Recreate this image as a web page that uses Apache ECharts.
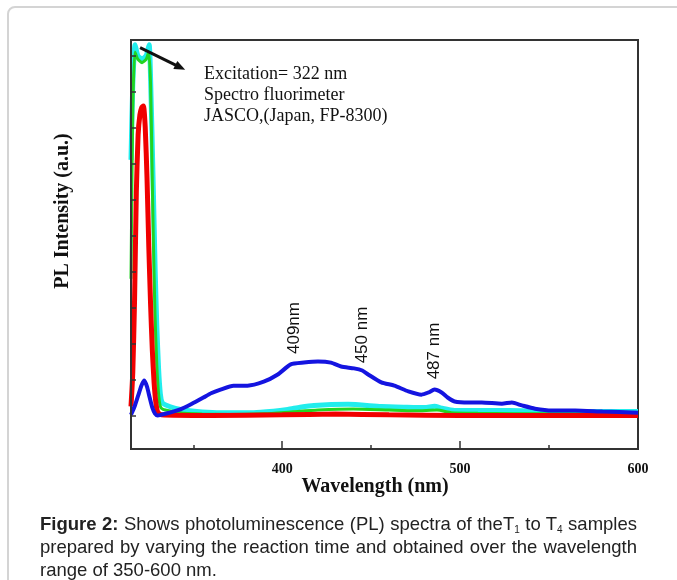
<!DOCTYPE html>
<html>
<head>
<meta charset="utf-8">
<script src="https://cdn.jsdelivr.net/npm/echarts@6/dist/echarts.min.js"></script>
<style>
    html, body { margin: 0; padding: 0; background: #fff; overflow: hidden; }
    #frame { position: absolute; left: 7px; top: 6px; width: 700px; height: 600px;
             border: 2px solid #d4d4d4; border-radius: 8px; }
    #plcharts { position: absolute; left: 0; top: 0; width: 677px; height: 580px; }
    #caption { position: absolute; left: 40px; top: 512px; width: 597px; color: #222;
               font-family: "Liberation Sans", Arial, sans-serif; font-size: 18.5px; line-height: 23px; }
    #caption div { text-align: justify; text-align-last: justify; white-space: nowrap; height: 23px; }
    #caption div.last { text-align-last: left; }
    #caption sub { font-size: 10px; line-height: 0; vertical-align: -3px; }
</style>
</head>
<body>
<div id="frame"></div>
<div id="plcharts"></div>
<div id="caption">
    <div><b>Figure 2:</b> Shows photoluminescence (PL) spectra of theT<sub>1</sub> to T<sub>4</sub> samples</div>
    <div>prepared by varying the reaction time and obtained over the wavelength</div>
    <div class="last">range of 350-600 nm.</div>
</div>
<script>
// wavelength (nm) / intensity (a.u.)
var wlCyan = [315, 316, 317.3, 318.8, 321.2, 323.6, 325.2, 326.3, 327.2, 328, 328.6, 329.5, 330.5, 331.5, 332.5, 334.2, 340, 346.6, 355, 365.3, 383.9, 395, 403.1, 410, 417.8, 437, 455.7, 470, 480, 485.6, 490, 496.9, 510, 527.4, 545, 564.7, 585, 600];
var intCyan = [7.1, 9.2, 10.3, 10.0, 9.9, 10.0, 10.3, 8.8, 7.0, 5.3, 4.0, 2.5, 1.3, 0.6, 0.36, 0.3, 0.2, 0.14, 0.1, 0.08, 0.08, 0.12, 0.17, 0.23, 0.28, 0.31, 0.25, 0.23, 0.22, 0.26, 0.2, 0.14, 0.14, 0.14, 0.12, 0.11, 0.11, 0.11];

var wlGreen = [315, 316, 317.2, 318.8, 321.2, 323.6, 325.0, 326.0, 326.8, 327.6, 328.5, 329.5, 330.5, 331.5, 333, 338, 345, 355, 370, 390, 405, 420, 440, 460, 475, 487, 495, 510, 530, 560, 600];
var intGreen = [3.8, 8.5, 10.1, 9.9, 9.8, 9.9, 10.1, 9.2, 7.0, 4.8, 2.8, 1.4, 0.6, 0.25, 0.17, 0.12, 0.06, 0.04, 0.03, 0.05, 0.1, 0.15, 0.18, 0.15, 0.13, 0.15, 0.08, 0.06, 0.05, 0.05, 0.05];

var wlRed = [315, 316, 317, 318, 319, 320, 321, 322, 323, 324, 325, 326, 327, 328, 329, 330, 332, 360, 400, 430, 460, 500, 600];
var intRed = [0.25, 1.2, 3.2, 6.2, 7.8, 8.35, 8.55, 8.6, 8.0, 6.6, 4.7, 3.1, 1.8, 0.9, 0.35, 0.1, 0.02, 0.0, 0.02, 0.04, 0.02, 0.0, 0.0];

var wlBlue = [315, 317, 319, 321, 322.5, 324, 325.5, 327, 328.5, 330, 332, 336, 342.7, 349, 355.7, 360, 365.3, 372.6, 380.5, 389.6, 397.5, 404.8, 412.2, 420.1, 427.4, 433.1, 440.4, 445, 448.3, 455.7, 463, 470.9, 478.3, 482.2, 485.6, 489.6, 493, 496.9, 504.8, 512.2, 523.5, 529.1, 534.8, 542.1, 551.7, 564.7, 580, 600];
var intBlue = [0.02, 0.25, 0.55, 0.85, 0.97, 0.8, 0.5, 0.22, 0.05, 0.0, 0.02, 0.07, 0.17, 0.32, 0.5, 0.62, 0.72, 0.83, 0.83, 0.94, 1.14, 1.42, 1.47, 1.5, 1.47, 1.36, 1.31, 1.25, 1.14, 0.92, 0.83, 0.67, 0.58, 0.64, 0.72, 0.64, 0.5, 0.39, 0.36, 0.36, 0.33, 0.36, 0.28, 0.19, 0.14, 0.14, 0.11, 0.08];

var majorTicks = [400, 500, 600];
var minorTicks = [350, 450, 550];
var yTicks = [0, 1, 2, 3, 4, 5, 6, 7, 8, 9, 10];
var peakNotes = ['409nm', '450 nm', '487 nm'];
var arrowFrom = [320.1, 10.22];
var arrowTo = [342.7, 9.67];

var pairs = function (xs, ys) {
    var out = [];
    for (var i = 0; i < xs.length; i++) { out.push([xs[i], ys[i]]); }
    return out;
};

var serif = '"Liberation Serif", "Times New Roman", serif';
var sans = '"Liberation Sans", Arial, sans-serif';
var axisColor = '#333';

var chart = echarts.init(document.getElementById('plcharts'), null, { renderer: 'canvas' });

var lineSeries = function (name, color, width, xs, ys) {
    return {
        name: name, type: 'line', xAxisIndex: 0, data: pairs(xs, ys),
        symbol: 'none', smooth: 0.2,
        lineStyle: { color: color, width: width },
        itemStyle: { color: color }
    };
};

var cyan = lineSeries('T4', '#22eded', 5, wlCyan, intCyan);
cyan.markLine = {
    silent: true, symbol: ['none', 'triangle'], symbolSize: [9, 11],
    label: { show: false },
    lineStyle: { color: '#111', width: 3, type: 'solid' },
    data: [[{ coord: arrowFrom }, { coord: arrowTo }]]
};

var peakText = function (txt, x, y) {
    return { type: 'text', x: x, y: y, rotation: Math.PI / 2, z: 100,
             style: { text: txt, font: '17px ' + sans, fill: '#111', align: 'center', verticalAlign: 'middle' } };
};

var option = {
    animation: false,
    grid: { left: 131, right: 39, top: 40, bottom: 131, show: true, borderColor: axisColor, borderWidth: 2, backgroundColor: 'transparent' },
    xAxis: [
        {
            type: 'value', min: 315, max: 600, position: 'bottom', z: 5,
            axisLine: { onZero: false, lineStyle: { color: axisColor, width: 2 } },
            axisTick: { inside: true, length: 8, customValues: majorTicks, lineStyle: { color: axisColor, width: 1.5 } },
            axisLabel: { customValues: majorTicks, color: '#111', fontFamily: serif, fontWeight: 'bold', fontSize: 14, margin: 13 },
            splitLine: { show: false }
        },
        {
            type: 'value', min: 315, max: 600, position: 'bottom', z: 5,
            axisLine: { show: false, onZero: false },
            axisTick: { inside: true, length: 4, customValues: minorTicks, lineStyle: { color: axisColor, width: 1.5 } },
            axisLabel: { show: false },
            splitLine: { show: false }
        }
    ],
    yAxis: {
        type: 'value', min: -0.93, max: 10.43, z: 5,
        axisLine: { show: true, onZero: false, lineStyle: { color: axisColor, width: 2 } },
        axisTick: { show: true, inside: true, length: 5, customValues: yTicks, lineStyle: { color: axisColor, width: 1.5 } },
        axisLabel: { show: false },
        splitLine: { show: false }
    },
    series: [
        cyan,
        lineSeries('T3', '#22d422', 3, wlGreen, intGreen),
        lineSeries('T2', '#f00000', 5, wlRed, intRed),
        lineSeries('T1', '#1414e0', 4, wlBlue, intBlue)
    ],
    graphic: [
        {
            type: 'text', left: 204, top: 64, z: 100,
            style: { text: 'Excitation= 322 nm\nSpectro fluorimeter\nJASCO,(Japan, FP-8300)', font: '18px ' + serif, lineHeight: 21, fill: '#111' }
        },
        peakText(peakNotes[0], 294, 328),
        peakText(peakNotes[1], 362, 335),
        peakText(peakNotes[2], 434, 351),
        { type: 'text', x: 375, y: 487, z: 100,
          style: { text: 'Wavelength (nm)', font: 'bold 20px ' + serif, fill: '#111', align: 'center', verticalAlign: 'middle' } },
        { type: 'text', x: 63, y: 211, rotation: Math.PI / 2, z: 100,
          style: { text: 'PL Intensity (a.u.)', font: 'bold 20px ' + serif, fill: '#111', align: 'center', verticalAlign: 'middle' } }
    ]
};
chart.setOption(option);
</script>
</body>
</html>
